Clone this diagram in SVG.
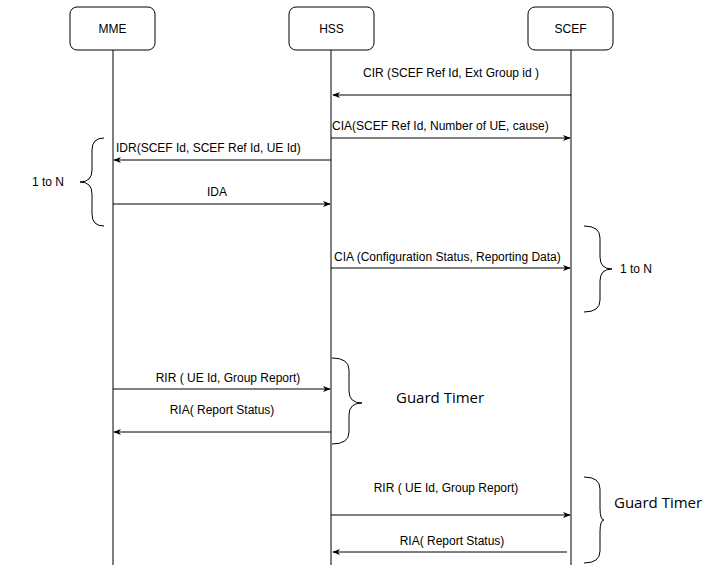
<svg xmlns="http://www.w3.org/2000/svg" width="711" height="571" viewBox="0 0 711 571">
<defs>
<marker id="a" viewBox="0 0 10 10" refX="9" refY="5" markerWidth="8" markerHeight="8" orient="auto"><path d="M0,1 L10,5 L0,9 L3,5 Z" fill="#000"/></marker>
<style>
.box{fill:#fff;stroke:#000;stroke-width:1}
.life{stroke:#000;stroke-width:1;fill:none}
.msg{stroke:#000;stroke-width:1;fill:none;marker-end:url(#a)}
.br{stroke:#000;stroke-width:1;fill:none}
text{font-family:"Liberation Sans",Arial,sans-serif;font-size:12px;fill:#000}
.c{text-anchor:middle}
.g{font-family:"Open Sans",sans-serif;font-size:15px}
</style>
</defs>
<rect width="711" height="571" fill="#fff"/>
<g id="MME"><rect class="box" x="70" y="7" width="85" height="43" rx="7"/><text class="c" x="112.5" y="33">MME</text><line class="life" x1="113" y1="50" x2="113" y2="565"/></g>
<g id="HSS"><rect class="box" x="289" y="7" width="85" height="43" rx="7"/><text class="c" x="331.5" y="33">HSS</text><line class="life" x1="331" y1="50" x2="331" y2="565"/></g>
<g id="SCEF"><rect class="box" x="528" y="7" width="85" height="43" rx="7"/><text class="c" x="570.5" y="33">SCEF</text><line class="life" x1="571" y1="50" x2="571" y2="565"/></g>
<g id="connectors">
<line class="msg" x1="571" y1="95" x2="333" y2="95"/>
<line class="msg" x1="331" y1="138" x2="570" y2="138"/>
<line class="msg" x1="331" y1="160" x2="114" y2="160"/>
<line class="msg" x1="113" y1="204" x2="330" y2="204"/>
<line class="msg" x1="331" y1="268" x2="570" y2="268"/>
<line class="msg" x1="113" y1="389" x2="330" y2="389"/>
<line class="msg" x1="331" y1="432" x2="114" y2="432"/>
<line class="msg" x1="331" y1="515" x2="570" y2="515"/>
<line class="msg" x1="567" y1="552" x2="333" y2="552"/>
</g>
<g id="labels">
<text class="c" x="451" y="77">CIR (SCEF Ref Id, Ext Group id )</text>
<text x="332" y="130">CIA(SCEF Ref Id, Number of UE, cause)</text>
<text x="116" y="152">IDR(SCEF Id, SCEF Ref Id, UE Id)</text>
<text class="c" x="217" y="196">IDA</text>
<text x="334" y="261">CIA (Configuration Status, Reporting Data)</text>
<text class="c" x="228" y="382">RIR ( UE Id, Group Report)</text>
<text class="c" x="222" y="414">RIA( Report Status)</text>
<text class="c" x="446" y="492">RIR ( UE Id, Group Report)</text>
<text class="c" x="452" y="545">RIA( Report Status)</text>
</g>
<g id="brace1"><path class="br" d="M104,138 Q92,138 92,150 L92,170 Q92,182 80,182 Q92,182 92,194 L92,214 Q92,226 104,226"/><text x="32" y="186">1 to N</text></g>
<g id="brace2"><path class="br" d="M584,226 Q600,226 600,238 L600,257 Q600,269 612,269 Q600,269 600,281 L600,300 Q600,312 584,312"/><text x="620" y="273">1 to N</text></g>
<g id="brace3"><path class="br" d="M332,358 Q349,358 349,370 L349,391 Q349,403 362,403 Q349,403 349,415 L349,432 Q349,444 332,444"/><text class="g" x="396" y="403">Guard Timer</text></g>
<g id="brace4"><path class="br" d="M584,477 Q600,477 600,489 L600,508 Q600,520 604,520 Q600,520 600,532 L600,551 Q600,563 584,563"/><text class="g" x="614" y="508">Guard Timer</text></g>
</svg>
